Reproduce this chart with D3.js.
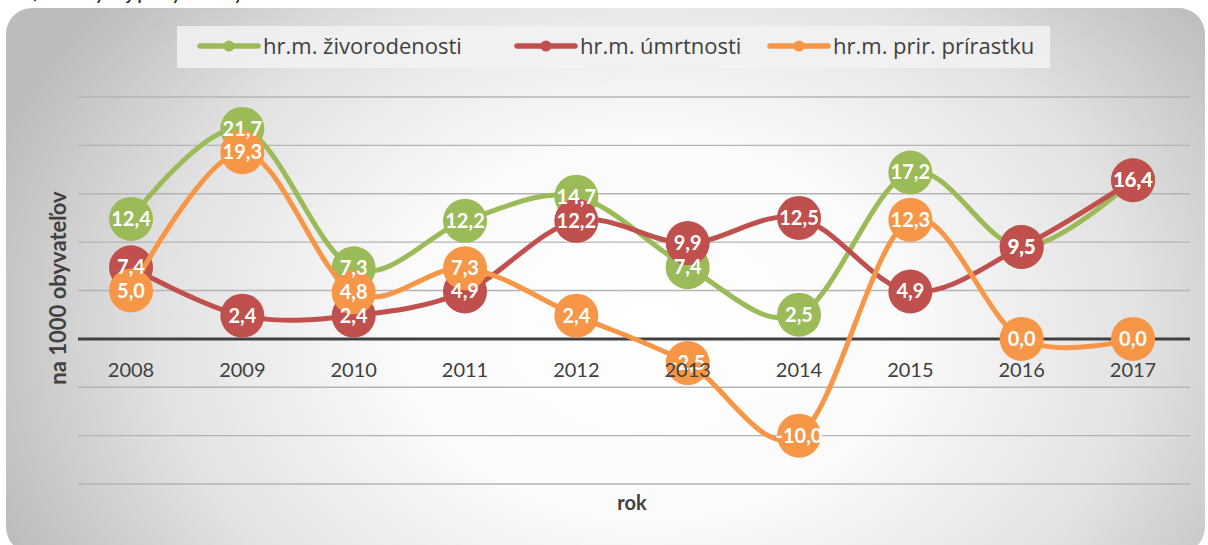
<!DOCTYPE html>
<html><head><meta charset="utf-8">
<script src="https://cdn.jsdelivr.net/npm/d3@7/dist/d3.min.js"></script>
<style>
body{margin:0;background:#fff;}
svg{display:block;font-family:Lato,"Open Sans",sans-serif;}
</style></head>
<body><svg id="c" width="1208" height="545"></svg>
<script>
const years = ["2008","2009","2010","2011","2012","2013","2014","2015","2016","2017"];
const zivorodenost = [12.4,21.7,7.3,12.2,14.7,7.4,2.5,17.2,9.5,16.4];
const umrtnost = [7.4,2.4,2.4,4.9,12.2,9.9,12.5,4.9,9.5,16.4];
const prirastok = [5.0,19.3,4.8,7.3,2.4,-2.5,-10.0,12.3,0.0,0.0];
const yTicks = [-15,-10,-5,0,5,10,15,20,25];
const seriesNames = ["hr.m. živorodenosti","hr.m. úmrtnosti","hr.m. prir. prírastku"];
const seriesColors = ["#9bbb59","#c0504d","#f79646"];
const series = [zivorodenost, umrtnost, prirastok];

const svg = d3.select("#c");
const defs = svg.append("defs");
const rg = defs.append("radialGradient").attr("id","bg").attr("gradientUnits","userSpaceOnUse")
  .attr("cx",650).attr("cy",330).attr("r",700)
  .attr("gradientTransform","translate(650,330) scale(1,0.75) translate(-650,-330)");
rg.append("stop").attr("offset","0").attr("stop-color","#ffffff");
rg.append("stop").attr("offset","0.35").attr("stop-color","#fbfbfb");
rg.append("stop").attr("offset","0.7").attr("stop-color","#e2e2e2");
rg.append("stop").attr("offset","1").attr("stop-color","#bcbcbc");

// cut-off title
svg.append("text").attr("x",0).attr("y",-1).attr("font-style","italic").attr("font-size",22)
  .attr("fill","#222").text("Graf č. 4 Vývoj pohybu obyvateľstva v obci v rokoch 2008 – 2017");

svg.append("rect").attr("x",6).attr("y",8).attr("width",1199).attr("height",545).attr("rx",26)
  .attr("fill","url(#bg)");

const x = d3.scalePoint().domain(years).range([131,1133]);
const y = d3.scaleLinear().domain([-15,25]).range([484,97]);

// gridlines
svg.append("g").selectAll("line").data(yTicks.filter(t=>t!==0)).join("line")
  .attr("x1",78).attr("x2",1190).attr("y1",d=>y(d)).attr("y2",d=>y(d))
  .attr("stroke","#b4b4b4").attr("stroke-width",1.3);

// legend box
svg.append("rect").attr("x",177).attr("y",26).attr("width",873).attr("height",42)
  .attr("fill","#f2f2f2").attr("opacity",0.85);
const legX = [200,517,770];
seriesNames.forEach((n,i)=>{
  const g = svg.append("g").attr("transform",`translate(${legX[i]},46)`);
  g.append("line").attr("x1",0).attr("x2",58).attr("stroke",seriesColors[i]).attr("stroke-width",5.5).attr("stroke-linecap","round");
  g.append("circle").attr("cx",29).attr("r",5.5).attr("fill",seriesColors[i]);
  g.append("text").attr("x",63).attr("y",7.5).attr("font-size",22).attr("font-family","'Open Sans',sans-serif")
    .attr("fill","#404040").text(n);
});

const line = d3.line().x((d,i)=>x(years[i])).y(d=>y(d)).curve(d3.curveCardinal.tension(0));

// zero axis
svg.append("line").attr("x1",78).attr("x2",1190).attr("y1",y(0)).attr("y2",y(0))
  .attr("stroke","#404040").attr("stroke-width",3);

series.forEach((s,i)=>{
  const g = svg.append("g");
  g.append("path").attr("d",line(s)).attr("fill","none").attr("stroke",seriesColors[i]).attr("stroke-width",5);
  g.selectAll("circle").data(s).join("circle")
    .attr("cx",(d,j)=>x(years[j])).attr("cy",d=>y(d)).attr("r",22).attr("fill",seriesColors[i]);
});
series.forEach((s,i)=>{
  svg.append("g").selectAll("text").data(s).join("text")
    .attr("x",(d,j)=>x(years[j])).attr("y",d=>y(d)+7).attr("text-anchor","middle")
    .attr("font-size",20).attr("font-weight","bold").attr("fill","#fff")
    .text(d=>d3.format(".1f")(d).replace(".",",").replace("−","-"));
});

// x axis labels
svg.append("g").selectAll("text").data(years).join("text")
  .attr("x",d=>x(d)).attr("y",377).attr("text-anchor","middle").attr("font-size",20).attr("fill","#404040").text(d=>d);

svg.append("text").attr("x",632).attr("y",510).attr("text-anchor","middle").attr("font-size",20)
  .attr("font-weight","bold").attr("fill","#404040").text("rok");
svg.append("text").attr("transform","translate(66,288) rotate(-90)").attr("text-anchor","middle")
  .attr("font-size",22).attr("font-weight","bold").attr("fill","#404040").text("na 1000 obyvateľov");
</script></body></html>
